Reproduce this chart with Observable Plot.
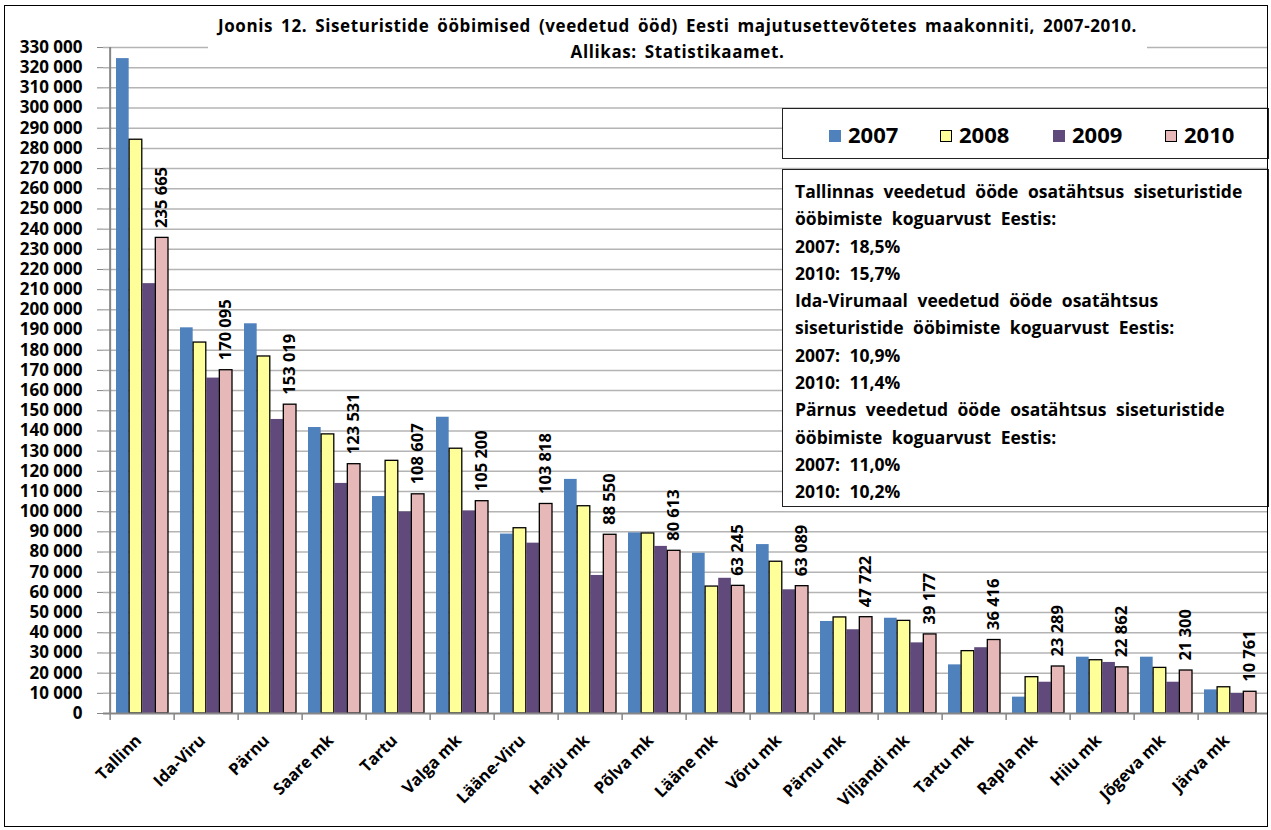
<!DOCTYPE html>
<html>
<head>
<meta charset="utf-8">
<script src="https://cdn.jsdelivr.net/npm/d3@7"></script>
<script src="https://cdn.jsdelivr.net/npm/@observablehq/plot@0.6"></script>
<style>
  html, body { margin: 0; padding: 0; background: #fff; }
  #wrap { position: relative; width: 1271px; height: 830px; font-family: "Open Sans", sans-serif; font-weight: bold; color: #000; overflow: hidden; }
  #wrap svg { position: absolute; left: 0; top: 0; }
  .frame { position: absolute; left: 4px; top: 5px; width: 1264px; height: 822px; border: 1.5px solid #000; box-sizing: border-box; pointer-events: none; }
  .title { position: absolute; left: 208px; top: 13px; width: 939px; height: 51px; background: #fff; text-align: center; font-size: 17px; line-height: 26px; letter-spacing: 0.6px; word-spacing: 3px; white-space: nowrap; }
  .legend { position: absolute; left: 782px; top: 108px; width: 487px; height: 51px; border: 1.5px solid #222; box-sizing: border-box; background: #fff; }
  .legend .item { position: absolute; top: 10px; font-size: 22px; line-height: 30px; }
  .legend .sw { display: inline-block; width: 12px; height: 12px; margin-right: 7px; vertical-align: 1px; box-sizing: border-box; }
  .note { position: absolute; left: 782px; top: 169px; width: 487px; height: 338px; border: 1.5px solid #222; box-sizing: border-box; background: #fff; padding: 8px 0 0 12px; font-size: 17.5px; line-height: 27.3px; word-spacing: 5px; white-space: nowrap; }
</style>
</head>
<body>
<div id="wrap">
  <div id="chart"></div>
  <div class="title" id="title"></div>
  <div class="legend" id="legend"></div>
  <div class="note" id="note"></div>
  <div class="frame"></div>
</div>
<script>
const counties = ["Tallinn", "Ida-Viru", "Pärnu", "Saare mk", "Tartu", "Valga mk", "Lääne-Viru", "Harju mk", "Põlva mk", "Lääne mk", "Võru mk", "Pärnu mk", "Viljandi mk", "Tartu mk", "Rapla mk", "Hiiu mk", "Jõgeva mk", "Järva mk"];
const years = ["2007", "2008", "2009", "2010"];
const v2007 = [324500, 191100, 193100, 141700, 107500, 146800, 88900, 116000, 89500, 79400, 83700, 45600, 47200, 24100, 8100, 27900, 27900, 11700];
const v2008 = [284300, 183800, 176900, 138300, 125200, 131200, 91800, 102700, 89200, 62900, 75200, 47600, 45900, 30900, 18000, 26400, 22600, 13000];
const v2009 = [213000, 166200, 145700, 114000, 99900, 100400, 84400, 68400, 82800, 67000, 61300, 41500, 35000, 32600, 15500, 25300, 15500, 9900];
const v2010 = [235665, 170095, 153019, 123531, 108607, 105200, 103818, 88550, 80613, 63245, 63089, 47722, 39177, 36416, 23289, 22862, 21300, 10761];
const yTicks = d3.range(0, 330001, 10000);
const colors = ["#4F81BD", "#FFFF99", "#604A7B", "#E6B9B8"];
const strokes = ["none", "#000", "none", "#000"];

const titleLines = ["Joonis 12. Siseturistide ööbimised (veedetud ööd) Eesti majutusettevõtetes maakonniti, 2007-2010.", "Allikas: Statistikaamet."];
const noteLines = [
  "Tallinnas veedetud ööde osatähtsus siseturistide",
  "ööbimiste koguarvust Eestis:",
  "2007:  18,5%",
  "2010:  15,7%",
  "Ida-Virumaal veedetud ööde osatähtsus",
  "siseturistide ööbimiste koguarvust Eestis:",
  "2007:  10,9%",
  "2010:  11,4%",
  "Pärnus veedetud ööde osatähtsus siseturistide",
  "ööbimiste koguarvust Eestis:",
  "2007:  11,0%",
  "2010:  10,2%"
];

const series = [v2007, v2008, v2009, v2010];
const data = counties.flatMap((c, i) => years.map((y, j) => ({county: c, year: y, value: series[j][i]})));

const W = 1271, H = 830, mL = 103, mR = 3, mT = 47, mB = 117;
const pIn = 0.19, pOut = 0.095;
const step = (W - mL - mR) / (counties.length - pIn + 2 * pOut);
const bw = step * (1 - pIn) / 4;
const fmt = d => d3.format(",")(d).replace(/,/g, " ");

const barMarks = years.map((y, j) => Plot.barY(data.filter(d => d.year === y), {
  x: "county", y: "value", fill: colors[j],
  stroke: strokes[j], strokeWidth: 1.3,
  insetLeft: j * bw, insetRight: (3 - j) * bw
}));

const chart = Plot.plot({
  width: W, height: H,
  marginLeft: mL, marginRight: mR, marginTop: mT, marginBottom: mB,
  style: {fontFamily: "'Open Sans', sans-serif", fontWeight: "bold", background: "transparent", color: "#000"},
  x: {type: "band", domain: counties, paddingInner: pIn, paddingOuter: pOut, axis: null},
  y: {domain: [0, 330000], axis: null},
  marks: [
    Plot.gridY(yTicks.slice(1), {stroke: "#b4b4b4", strokeOpacity: 1, strokeWidth: 1.5}),
    Plot.axisY(yTicks, {tickFormat: fmt, tickSize: 6, tickPadding: 15, fontSize: 17, stroke: "#868686", label: null}),
    ...barMarks,
    Plot.ruleY([0], {stroke: "#868686", strokeWidth: 2}),
    Plot.ruleX([counties[0]], {x: d => d, dx: -step / 2, y1: 0, y2: 330000, stroke: "#868686", strokeWidth: 2}),
    Plot.ruleX(counties, {x: d => d, dx: -step / 2, y1: 0, y2: -3500, stroke: "#868686", strokeWidth: 1.5}),
    Plot.text(data.filter(d => d.year === "2010"), {
      x: "county", y: "value", text: d => fmt(d.value), rotate: -90, textAnchor: "start",
      dx: 1.5 * bw, dy: -10, fontSize: 16.5, fill: "#000"
    }),
    Plot.text(counties, {
      x: d => d, frameAnchor: "bottom", text: d => d, rotate: -45, textAnchor: "end",
      dx: 0, dy: 28, fontSize: 16.5, fill: "#000"
    })
  ]
});
document.getElementById("chart").appendChild(chart);

document.getElementById("title").innerHTML = titleLines.map(t => `<div>${t}</div>`).join("");
document.getElementById("note").innerHTML = noteLines.map(t => `<div>${t}</div>`).join("");
const legendLefts = [46, 157, 270, 382];
document.getElementById("legend").innerHTML = years.map((y, j) =>
  `<div class="item" style="left:${legendLefts[j]}px"><span class="sw" style="background:${colors[j]};${strokes[j] !== "none" ? "border:1.3px solid #000;" : ""}"></span>${y}</div>`
).join("");
</script>
</body>
</html>
